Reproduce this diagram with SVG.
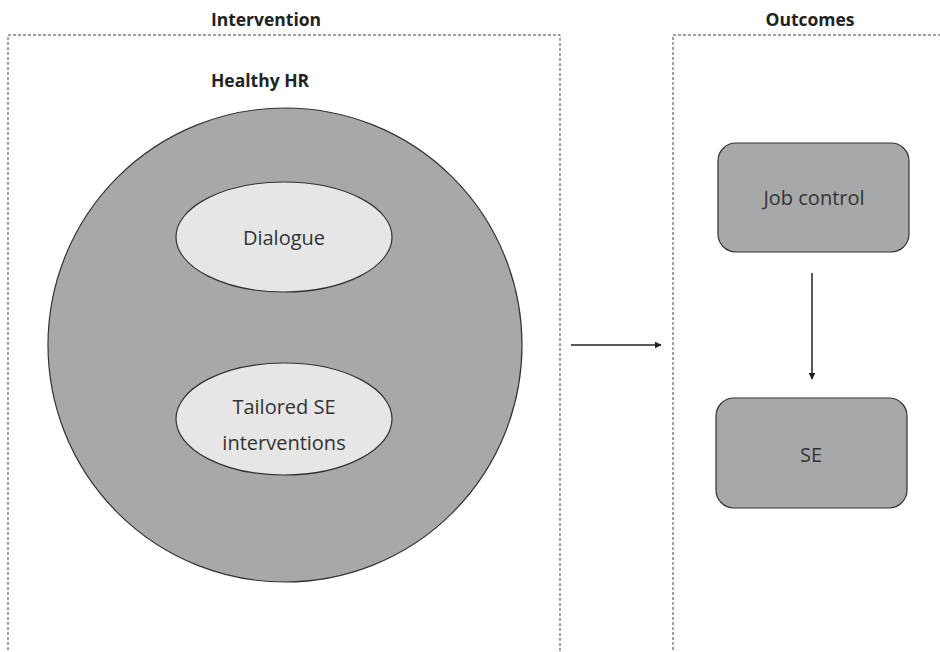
<svg xmlns="http://www.w3.org/2000/svg" width="940" height="652" viewBox="0 0 940 652">
<defs>
<style>
.frame{fill:none;stroke:#444;stroke-width:1;stroke-dasharray:3 2}
.title{font-family:"Open Sans","Liberation Sans",sans-serif;font-weight:bold;font-size:17.5px;fill:#222;text-anchor:middle}
.lbl{font-family:"Open Sans","Liberation Sans",sans-serif;font-size:20px;fill:#333;text-anchor:middle}
.dark{fill:#a7a8aa;stroke:#333;stroke-width:1.2}
.light{fill:#e6e6e7;stroke:#333;stroke-width:1.2}
.conn{stroke:#222;stroke-width:1.5;fill:none;marker-end:url(#ah)}
</style>
<marker id="ah" viewBox="0 0 10 10" refX="9" refY="5" markerWidth="7" markerHeight="7" markerUnits="userSpaceOnUse" orient="auto"><path d="M0,0 L10,5 L0,10 z" fill="#222"/></marker>
</defs>
<rect width="940" height="652" fill="#fff"/>
<g id="intervention">
<path class="frame" d="M8,660 V35 H560 V660"/>
<text class="title" x="266" y="26">Intervention</text>
</g>
<g id="outcomes">
<path class="frame" d="M673,660 V35 H945"/>
<text class="title" x="810" y="26">Outcomes</text>
</g>
<g id="healthy-hr">
<text class="title" x="260" y="87">Healthy HR</text>
<circle class="dark" cx="285" cy="345" r="237"/>
</g>
<g id="dialogue">
<ellipse class="light" cx="284" cy="237" rx="108" ry="55"/>
<text class="lbl" x="284" y="245">Dialogue</text>
</g>
<g id="tailored">
<ellipse class="light" cx="284" cy="419" rx="108" ry="56"/>
<text class="lbl" x="284" y="414">Tailored SE</text>
<text class="lbl" x="284" y="450">interventions</text>
</g>
<g id="job-control">
<rect class="dark" x="718" y="143" width="191" height="109" rx="18"/>
<text class="lbl" x="814" y="205">Job control</text>
</g>
<g id="se">
<rect class="dark" x="716" y="398" width="191" height="110" rx="18"/>
<text class="lbl" x="811" y="462">SE</text>
</g>
<g id="connectors">
<line class="conn" x1="571" y1="345" x2="661" y2="345"/>
<line class="conn" x1="812" y1="273" x2="812" y2="379"/>
</g>
</svg>
